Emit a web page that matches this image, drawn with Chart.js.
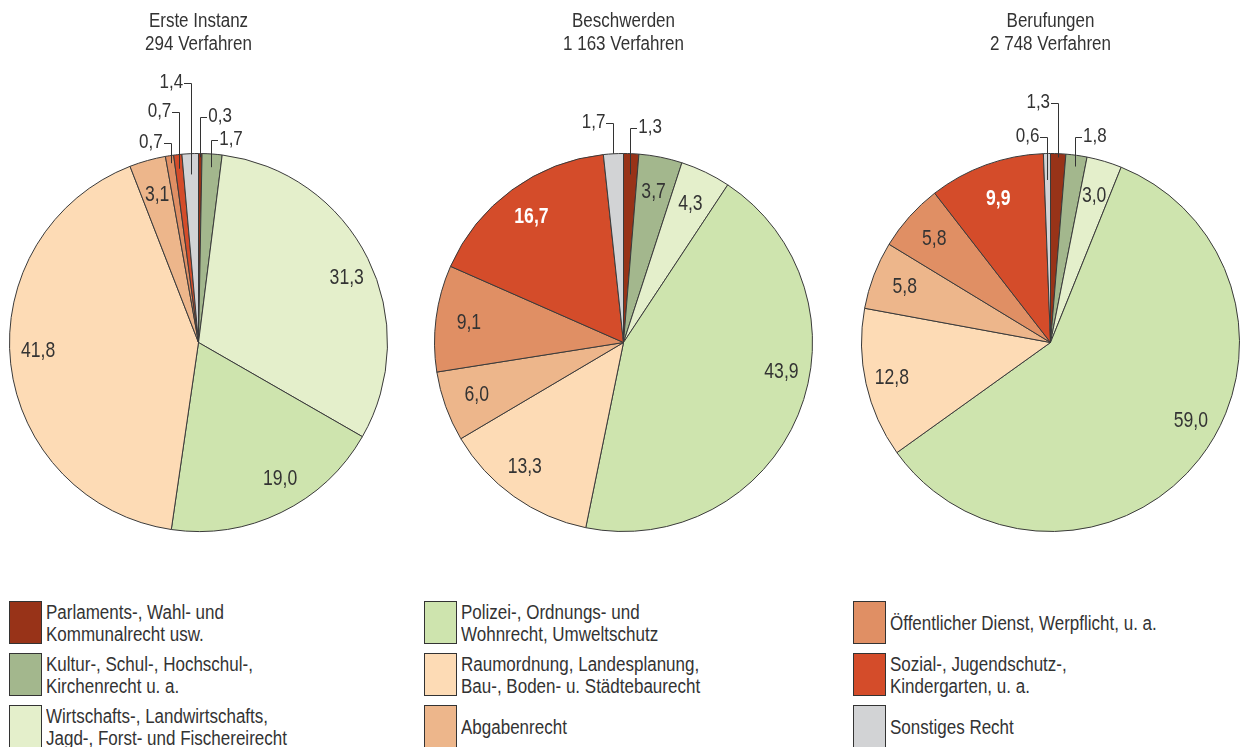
<!DOCTYPE html>
<html>
<head>
<meta charset="utf-8">
<script src="https://cdn.jsdelivr.net/npm/chart.js@4/dist/chart.umd.min.js"></script>
<style>
  html, body { margin: 0; padding: 0; background: #fff; }
  body { width: 1241px; height: 747px; overflow: hidden; position: relative;
         font-family: "Liberation Sans", Arial, sans-serif; color: #333; }
  canvas { position: absolute; top: 0; }
  .col { position: absolute; top: 601px; }
  .item { display: flex; align-items: center; height: 43px; margin-bottom: 9px; }
  .box { width: 33px; height: 43px; border: 1px solid #333; flex: none; margin-right: 4px; box-sizing: border-box; }
  .txt { font-size: 20px; line-height: 22px; white-space: pre; transform: scaleX(0.85); transform-origin: left center; }
</style>
</head>
<body>
<canvas id="c0" width="420" height="560" style="left:-11px"></canvas>
<canvas id="c1" width="420" height="560" style="left:414px"></canvas>
<canvas id="c2" width="420" height="560" style="left:841px"></canvas>
<div class="col" id="leg0" style="left:9px"></div>
<div class="col" id="leg1" style="left:424px"></div>
<div class="col" id="leg2" style="left:853px"></div>
<script>
const categories = [
  "Parlaments-, Wahl- und\nKommunalrecht usw.",
  "Kultur-, Schul-, Hochschul-,\nKirchenrecht u. a.",
  "Wirtschafts-, Landwirtschafts,\nJagd-, Forst- und Fischereirecht",
  "Polizei-, Ordnungs- und\nWohnrecht, Umweltschutz",
  "Raumordnung, Landesplanung,\nBau-, Boden- u. Städtebaurecht",
  "Abgabenrecht",
  "Öffentlicher Dienst, Werpflicht, u. a.",
  "Sozial-, Jugendschutz-,\nKindergarten, u. a.",
  "Sonstiges Recht"
];
const sliceColors = ["#983318", "#A3B78D", "#E4EFCB", "#CEE4AE", "#FDDBB5", "#EDB68B", "#E08F64", "#D44C2A", "#D2D3D5"];

const pieTitles = ["Erste Instanz", "Beschwerden", "Berufungen"];
const pieTotals = ["294 Verfahren", "1 163 Verfahren", "2 748 Verfahren"];

const ersteInstanz = [0.3, 1.7, 31.3, 19.0, 41.8, 3.1, 0.7, 0.7, 1.4];
const beschwerden  = [1.3, 3.7, 4.3, 43.9, 13.3, 6.0, 9.1, 16.7, 1.7];
const berufungen   = [1.3, 1.8, 3.0, 59.0, 12.8, 5.8, 5.8, 9.9, 0.6];

const FONT = '"Liberation Sans", Arial, sans-serif';
const TEXT = "#333333";
const NARROW = 0.85;   // squeeze Liberation Sans to look like a condensed face

// label layout: small slices get a bracket leader to a label above the pie,
// nudge = [angle shift in degrees, radius fraction] for inside labels
const pies = [
  { id: "c0", values: ersteInstanz,
    outside: { 8: { side: "left", y: 83, depth: 0.89 }, 7: { side: "left", y: 112, depth: 0.925 },
               6: { side: "left", y: 143, depth: 0.96 }, 0: { side: "right", y: 117, depth: 0.98 },
               1: { side: "right", y: 140, depth: 0.93 } },
    nudge: { 2: [3, 0.855], 3: [-5, 0.84], 4: [3.5, 0.85], 5: [0, 0.81] },
    bold: {} },
  { id: "c1", values: beschwerden,
    outside: { 8: { side: "left", y: 123, depth: 1.0 }, 0: { side: "right", y: 128, depth: 0.89 } },
    nudge: { 1: [0, 0.81], 2: [0, 0.815], 3: [-12, 0.85], 4: [3, 0.84] },
    bold: { 7: true } },
  { id: "c2", values: berufungen,
    outside: { 0: { side: "left", y: 103, depth: 0.98 }, 8: { side: "left", y: 137, depth: 0.86 },
               1: { side: "right", y: 137, depth: 0.94 } },
    nudge: { 2: [0, 0.81], 3: [-9, 0.85], 4: [0, 0.86], 7: [0, 0.81] },
    bold: { 7: true } }
];

function fmt(v) {
  return v.toFixed(1).replace(".", ",");
}

function narrowText(ctx, text, x, y, align, sx) {
  ctx.save();
  ctx.translate(x, y);
  ctx.scale(sx || NARROW, 1);
  ctx.textAlign = align;
  ctx.fillText(text, 0, 0);
  ctx.restore();
}

const pieLabels = {
  id: "pieLabels",
  afterDatasetsDraw(chart, args, opts) {
    const ctx = chart.ctx;
    const cfg = opts.cfg;
    const meta = chart.getDatasetMeta(0);
    const values = chart.data.datasets[0].data;
    const cx = meta.data[0].x, cy = meta.data[0].y;

    ctx.save();
    ctx.fillStyle = TEXT;
    ctx.textBaseline = "alphabetic";
    ctx.font = "20px " + FONT;
    narrowText(ctx, pieTitles[opts.index], cx, 27, "center");
    narrowText(ctx, pieTotals[opts.index], cx, 50, "center");

    meta.data.forEach((arc, i) => {
      const r = arc.outerRadius;
      const mid = (arc.startAngle + arc.endAngle) / 2;
      const text = fmt(values[i]);
      const out = cfg.outside[i];
      ctx.textBaseline = "middle";
      if (out) {
        const lx = cx + Math.cos(mid) * r * out.depth;
        const ly = cy + Math.sin(mid) * r * out.depth;
        ctx.strokeStyle = "#333";
        ctx.lineWidth = 1;
        const hx = out.side === "left" ? lx - 7 : lx + 7;
        ctx.beginPath();
        ctx.moveTo(Math.round(hx), Math.round(out.y) + 0.5);
        ctx.lineTo(Math.round(lx) + 0.5, Math.round(out.y) + 0.5);
        ctx.lineTo(Math.round(lx) + 0.5, ly);
        ctx.stroke();
        ctx.font = "20px " + FONT;
        ctx.fillStyle = TEXT;
        narrowText(ctx, text, hx + (out.side === "left" ? -1 : 1), out.y - 1,
                   out.side === "left" ? "right" : "left");
      } else {
        const n = cfg.nudge[i] || [0, 0.825];
        const a = mid + n[0] * Math.PI / 180;
        const x = cx + Math.cos(a) * r * n[1];
        const y = cy + Math.sin(a) * r * n[1];
        const bold = cfg.bold[i];
        ctx.font = (bold ? "bold " : "") + "22px " + FONT;
        ctx.fillStyle = bold ? "#ffffff" : TEXT;
        narrowText(ctx, text, x, y, "center", 0.8);
      }
    });
    ctx.restore();
  }
};

pies.forEach((p, k) => {
  new Chart(document.getElementById(p.id), {
    type: "pie",
    data: {
      labels: categories,
      datasets: [{
        data: p.values,
        backgroundColor: sliceColors,
        borderColor: "#3a3a3a",
        borderWidth: 1
      }]
    },
    options: {
      responsive: false,
      animation: false,
      events: [],
      layout: { padding: { left: 20, right: 21, top: 153, bottom: 28 } },
      plugins: {
        legend: { display: false },
        tooltip: { enabled: false },
        pieLabels: { cfg: p, index: k }
      }
    },
    plugins: [pieLabels]
  });
});

// legend, three columns of three
categories.forEach((c, i) => {
  const col = document.getElementById("leg" + Math.floor(i / 3));
  const item = document.createElement("div");
  item.className = "item";
  const box = document.createElement("div");
  box.className = "box";
  box.style.background = sliceColors[i];
  const txt = document.createElement("div");
  txt.className = "txt";
  txt.textContent = c;
  item.appendChild(box);
  item.appendChild(txt);
  col.appendChild(item);
});
</script>
</body>
</html>
